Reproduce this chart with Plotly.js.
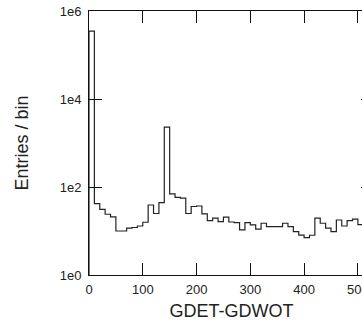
<!DOCTYPE html>
<html>
<head>
<meta charset="utf-8">
<script src="https://cdn.plot.ly/plotly-3.0.1.min.js"></script>
<style>
html,body{margin:0;padding:0;background:#fff;overflow:hidden;width:362px;height:321px;}
#chart{width:374px;height:321px;}
</style>
</head>
<body>
<div id="chart"></div>
<script>
// lower edges of the 10-unit bins of GDET-GDWOT
var binLow = [0,10,20,30,40,50,60,70,80,90,100,110,120,130,140,150,160,170,180,190,200,
  210,220,230,240,250,260,270,280,290,300,310,320,330,340,350,360,370,380,390,400,
  410,420,430,440,450,460,470,480,490,500,510,520];
var binWidth = 10;
// entries per bin
var counts = [350000,42,31,24,21,10,10,11.6,12,13,15.8,39,25,44,2300,70,58,56,25,36,37,
  24.5,17.3,19.6,16.4,20.6,16,15.5,10.6,15.5,13.8,11,15,12.6,12.6,12.6,15,12.6,9.7,8.1,7.1,
  8,19.6,15,11.6,9.7,17.8,13,17.3,18.6,14,17,16];
var yTickVals = [1,100,10000,1000000];
var yTickText = ["1e0","1e2","1e4","1e6"];
var xTickVals = [0,100,200,300,400,500];

var xs = [binLow[0]], ys = [1];
for (var i = 0; i < binLow.length; i++) { xs.push(binLow[i]); ys.push(counts[i]); }
xs.push(binLow[binLow.length-1] + binWidth); ys.push(counts[counts.length-1]);

var trace = {
  x: xs, y: ys, type: 'scatter', mode: 'lines',
  line: {shape: 'hv', color: '#222', width: 1.2},
  hoverinfo: 'skip'
};
var fnt = {family: 'Liberation Sans, Arial, Helvetica, sans-serif', color: '#222'};
var layout = {
  width: 374, height: 321,
  margin: {l: 89, r: 0, t: 11, b: 46},
  paper_bgcolor: '#fff', plot_bgcolor: '#fff',
  showlegend: false,
  font: fnt,
  xaxis: {
    range: [0, 530], tickvals: xTickVals, ticks: 'inside', ticklen: 12, tickwidth: 1,
    tickcolor: '#111', showline: true, linecolor: '#111', linewidth: 1, mirror: 'ticks',
    showgrid: false, zeroline: false, ticklabelstandoff: 2,
    tickfont: {family: fnt.family, size: 13, color: '#222'},
    title: {text: 'GDET-GDWOT', font: {family: fnt.family, size: 18, color: '#222'}, standoff: 9}
  },
  yaxis: {
    type: 'log', range: [0, 6], tickvals: yTickVals, ticktext: yTickText,
    ticks: 'inside', ticklen: 13, tickwidth: 1, tickcolor: '#111',
    showline: true, linecolor: '#111', linewidth: 1, mirror: 'ticks',
    showgrid: false, zeroline: false, ticklabelstandoff: 4,
    tickfont: {family: fnt.family, size: 13, color: '#222'},
    title: {text: 'Entries / bin', font: {family: fnt.family, size: 18, color: '#222'}, standoff: 26}
  }
};
Plotly.newPlot('chart', [trace], layout, {displayModeBar: false, staticPlot: true});
</script>
</body>
</html>
